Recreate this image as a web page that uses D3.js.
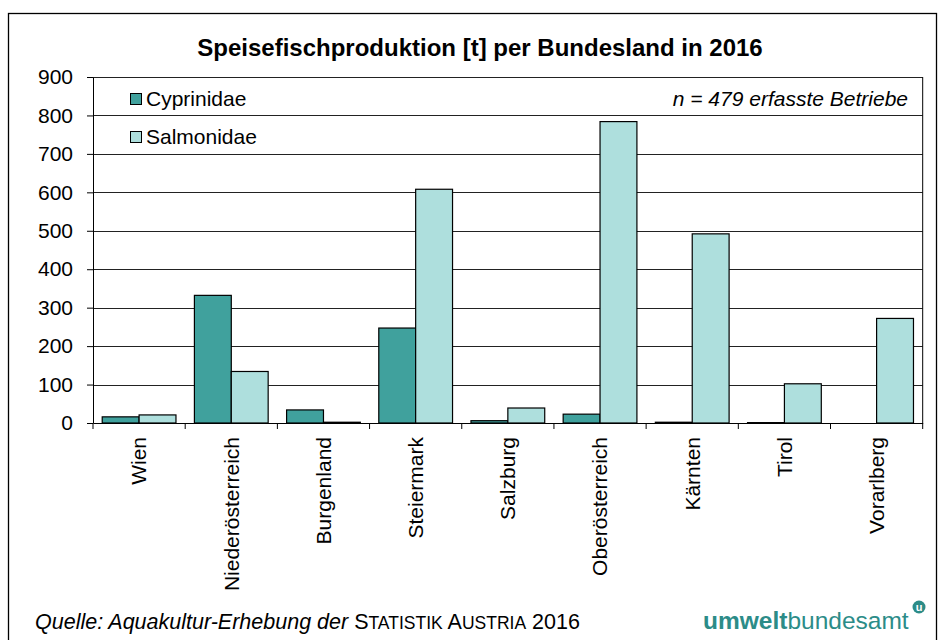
<!DOCTYPE html>
<html>
<head>
<meta charset="utf-8">
<title>Speisefischproduktion</title>
<script src="https://d3js.org/d3.v7.min.js"></script>
<style>
  body { margin: 0; background: #fff; }
  svg text { font-family: "Liberation Sans", Arial, sans-serif; fill: #000; }
  .grid line { stroke: #222; stroke-width: 1; }
  .axis path, .axis line { stroke: #000; }
  .bar { stroke: #000; stroke-width: 1.2; }
</style>
</head>
<body>
<script>
// data
var categories = ["Wien", "Niederösterreich", "Burgenland", "Steiermark", "Salzburg",
                  "Oberösterreich", "Kärnten", "Tirol", "Vorarlberg"];
var seriesNames = ["Cyprinidae", "Salmonidae"];
var cyprinidae = [16, 332, 34, 247, 6, 23, 2, 1, 0];
var salmonidae = [21, 134, 2, 608, 39, 784, 492, 102, 272];
var yTicks = [0, 100, 200, 300, 400, 500, 600, 700, 800, 900];
var colors = ["#40A19D", "#AEDFDD"];

var width = 943, height = 640;
var plotLeft = 93, plotRight = 922.7, plotTop = 77, plotBottom = 423;

var svg = d3.select("body").append("svg")
  .attr("width", width)
  .attr("height", height);

// outer frame
svg.append("rect")
  .attr("x", 8.5).attr("y", 13.5)
  .attr("width", 928).attr("height", 640)
  .attr("fill", "none").attr("stroke", "#000").attr("stroke-width", 1.3);

var x0 = d3.scaleBand().domain(categories).range([plotLeft, plotRight]).paddingInner(0.2).paddingOuter(0.1);
var x1 = d3.scaleBand().domain(seriesNames).range([0, x0.bandwidth()]);
var y = d3.scaleLinear().domain([0, 900]).range([plotBottom, plotTop]);

// gridlines
svg.append("g").attr("class", "grid")
  .selectAll("line")
  .data(yTicks.slice(1))
  .enter().append("line")
  .attr("x1", plotLeft).attr("x2", plotRight)
  .attr("y1", function(d) { return Math.round(y(d)) + 0.5; })
  .attr("y2", function(d) { return Math.round(y(d)) + 0.5; });

// bars
var rows = categories.map(function(c, i) {
  return { cat: c, vals: [cyprinidae[i], salmonidae[i]] };
});

var groups = svg.selectAll("g.cat")
  .data(rows)
  .enter().append("g")
  .attr("class", "cat")
  .attr("transform", function(d) { return "translate(" + x0(d.cat) + ",0)"; });

groups.selectAll("rect")
  .data(function(d) {
    return d.vals.map(function(v, j) { return { name: seriesNames[j], v: v, j: j }; });
  })
  .enter().append("rect")
  .attr("class", "bar")
  .attr("x", function(d) { return x1(d.name); })
  .attr("width", x1.bandwidth())
  .attr("y", function(d) { return y(d.v); })
  .attr("height", function(d) { return plotBottom - y(d.v); })
  .attr("fill", function(d) { return colors[d.j]; });

// y axis
var yAxis = svg.append("g").attr("class", "axis")
  .attr("transform", "translate(" + plotLeft + ",0)")
  .call(d3.axisLeft(y).tickValues(yTicks).tickSize(6).tickSizeOuter(0).tickPadding(14));
yAxis.selectAll("text").style("font-size", "21px");

// right border of plot
svg.append("line")
  .attr("x1", plotRight).attr("x2", plotRight).attr("y1", plotTop).attr("y2", plotBottom)
  .attr("stroke", "#000");

// x axis (labels)
var xAxis = svg.append("g").attr("class", "axis")
  .attr("transform", "translate(0," + plotBottom + ")")
  .call(d3.axisBottom(x0).tickSize(0).tickSizeOuter(0));
xAxis.selectAll("text")
  .style("font-size", "21px")
  .attr("text-anchor", "end")
  .attr("transform", "rotate(-90)")
  .attr("x", -14)
  .attr("y", 0)
  .attr("dy", "0.35em");

// x ticks at category boundaries
var step = x0.step();
var bounds = categories.map(function(c) { return x0(c) - step * 0.1; }).concat([plotRight]);
svg.append("g").selectAll("line")
  .data(bounds)
  .enter().append("line")
  .attr("x1", function(d) { return d; }).attr("x2", function(d) { return d; })
  .attr("y1", plotBottom).attr("y2", plotBottom + 6)
  .attr("stroke", "#000");

// title
svg.append("text")
  .attr("x", 480).attr("y", 56)
  .attr("text-anchor", "middle")
  .style("font-size", "24px").style("font-weight", "bold")
  .text("Speisefischproduktion [t] per Bundesland in 2016");

// legend
var legend = svg.append("g");
seriesNames.forEach(function(s, i) {
  legend.append("rect")
    .attr("x", 130.5).attr("y", 93.5 + i * 38)
    .attr("width", 11).attr("height", 11)
    .attr("fill", colors[i]).attr("stroke", "#000");
  legend.append("text")
    .attr("x", 146).attr("y", 106 + i * 38)
    .style("font-size", "21px")
    .text(s);
});

svg.append("text")
  .attr("x", 908).attr("y", 106)
  .attr("text-anchor", "end")
  .style("font-size", "21px").style("font-style", "italic")
  .text("n = 479 erfasste Betriebe");

// source
var src = svg.append("text")
  .attr("x", 35).attr("y", 629)
  .style("font-size", "21.5px");
src.append("tspan").style("font-style", "italic").text("Quelle: Aquakultur-Erhebung der ");
src.append("tspan").text("S");
src.append("tspan").style("font-size", "17.5px").text("TATISTIK ");
src.append("tspan").text("A");
src.append("tspan").style("font-size", "17.5px").text("USTRIA");
src.append("tspan").text(" 2016");

// logo
var logo = svg.append("text")
  .attr("x", 703).attr("y", 629)
  .style("font-size", "24.5px");
logo.append("tspan").style("font-weight", "bold").style("fill", "#2C8C88").text("umwelt");
logo.append("tspan").style("fill", "#2C8C88").text("bundesamt");
svg.append("circle").attr("cx", 919).attr("cy", 607).attr("r", 6.5).attr("fill", "#2C8C88");
svg.append("text").attr("x", 919).attr("y", 611)
  .attr("text-anchor", "middle")
  .style("font-size", "11px").style("font-weight", "bold").style("fill", "#fff")
  .text("u");
</script>
</body>
</html>
